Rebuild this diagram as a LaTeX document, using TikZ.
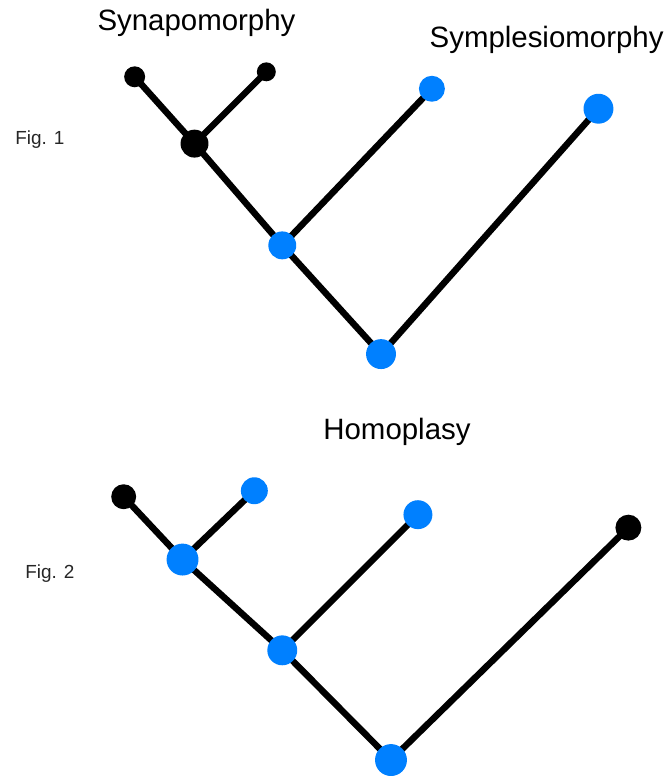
\documentclass[tikz,border=0pt]{standalone}
\usepackage{fontspec}
\setmainfont{Liberation Sans}
\definecolor{dotblue}{RGB}{0,128,255}
\pgfdeclarelayer{bg}
\pgfdeclarelayer{paper}
\pgfsetlayers{paper,bg,main}
\begin{document}
\begin{tikzpicture}[x=1pt,y=-1pt,
  branch/.style={line width=6.5pt,black},
  bdot/.style={circle,fill=black,inner sep=0pt,minimum size=#1},
  udot/.style={circle,fill=dotblue,inner sep=0pt,minimum size=#1},
  title/.style={font=\fontsize{29.5}{34}\selectfont,text=black,inner sep=0pt},
  figlab/.style={font=\fontsize{19}{22}\selectfont,text=black!85,inner sep=0pt}]
\begin{pgfonlayer}{paper}
\useasboundingbox[fill=white] (0,0) rectangle (673,776);
\end{pgfonlayer}
% Fig. 1
\node[title] (t1) at (197,23) {Synapomorphy};
\node[title] (t2) at (548,40) {Symplesiomorphy};
\node[figlab] (f1) at (40,140) {Fig. 1};
\node[bdot=21pt] (a1) at (135,77) {};
\node[bdot=19pt] (a2) at (267,72) {};
\node[bdot=28pt] (a3) at (195,144) {};
\node[udot=28pt] (a4) at (283,246) {};
\node[udot=26pt] (a5) at (433,89) {};
\node[udot=30pt] (a6) at (600,109) {};
\node[udot=30pt] (a7) at (382,355) {};
\begin{pgfonlayer}{bg}
\draw[branch] (a1.center) -- (a3.center) -- (a4.center) -- (a7.center) -- (a6.center);
\draw[branch] (a2.center) -- (a3.center);
\draw[branch] (a5.center) -- (a4.center);
\end{pgfonlayer}
% Fig. 2
\node[title] (t3) at (398,433) {Homoplasy};
\node[figlab] (f2) at (50,575) {Fig. 2};
\node[bdot=25pt] (b1) at (124,498) {};
\node[udot=27pt] (b2) at (255,492) {};
\node[udot=32pt] (b3) at (183,561) {};
\node[udot=29pt] (b4) at (419,516) {};
\node[bdot=26pt] (b5) at (630,529) {};
\node[udot=30pt] (b6) at (283,652) {};
\node[udot=32pt] (b7) at (392,762) {};
\begin{pgfonlayer}{bg}
\draw[branch] (b1.center) -- (b3.center) -- (b6.center) -- (b7.center) -- (b5.center);
\draw[branch] (b2.center) -- (b3.center);
\draw[branch] (b4.center) -- (b6.center);
\end{pgfonlayer}
\end{tikzpicture}
\end{document}
